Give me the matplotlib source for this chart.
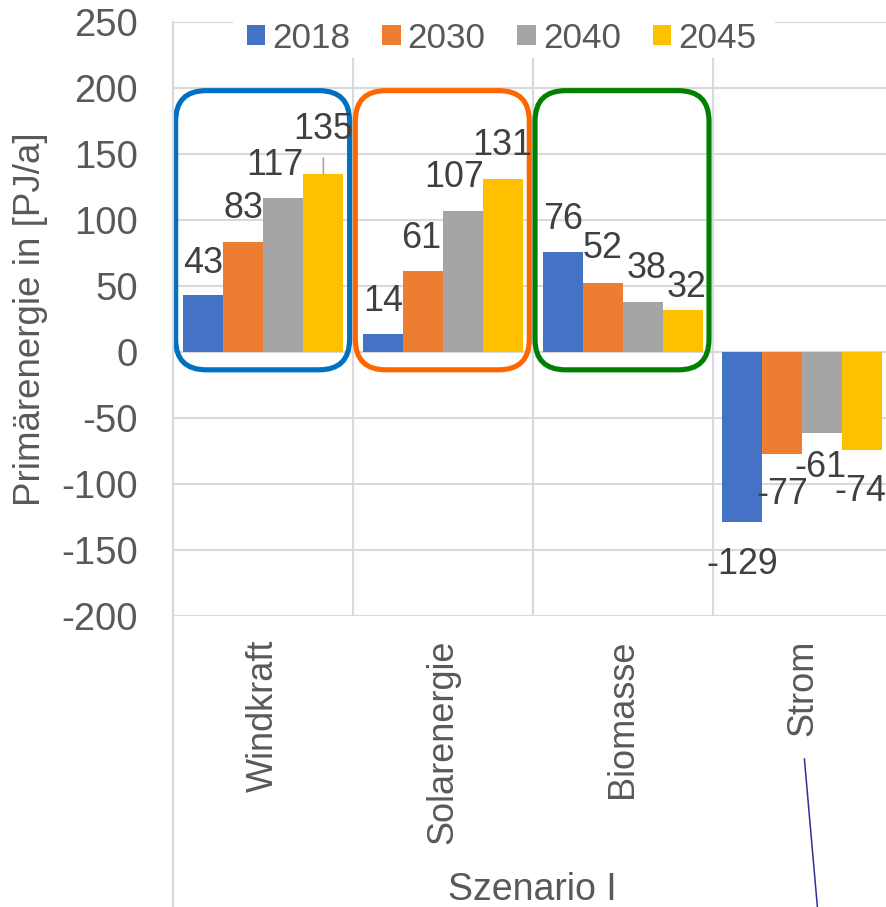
import numpy as np
import matplotlib
matplotlib.use("Agg")
import matplotlib.pyplot as plt
from matplotlib.patches import FancyBboxPatch, Rectangle
from matplotlib.lines import Line2D

plt.rcParams['font.family'] = ['Liberation Sans', 'DejaVu Sans']
plt.rcParams['axes.unicode_minus'] = False

# data
categories = ['Windkraft', 'Solarenergie', 'Biomasse', 'Strom']
years = ['2018', '2030', '2040', '2045']
v2018 = [43, 14, 76, -129]
v2030 = [83, 61, 52, -77]
v2040 = [117, 107, 38, -61]
v2045 = [135, 131, 32, -74]
series = [v2018, v2030, v2040, v2045]
colors = ['#4472C4', '#ED7D31', '#A5A5A5', '#FFC000']

# label offsets in pixels (dx, dy) from bar end, per series / category
label_dx = [[0, 0, 0, 0], [0, -2, 0, 0], [-8, -9, 4, -2], [0, -1, 4, -2]]
label_dy = [[22, 23, 23, -52], [24, 23, 25, -50], [23, 24, 24, -44], [35, 24, 13, -51]]

# highlight boxes around the first three categories
box_colors = ['#0070C0', '#FF6600', '#008000']

W, H = 887, 907
fig = plt.figure(figsize=(W / 100, H / 100), dpi=100)
ax = fig.add_axes([173.5 / W, (H - 616) / H, 718.8 / W, 594 / H])

x = np.arange(len(categories))
bw = 0.2226
bars = []
for i, (vals, c) in enumerate(zip(series, colors)):
    b = ax.bar(x + (i - 1.5) * bw, vals, bw, color=c, label=years[i], zorder=2)
    bars.append(b)

ax.set_xlim(-0.5, 3.5)
ax.set_ylim(-200, 250)
ax.set_yticks(np.arange(-200, 251, 50))
ax.set_xticks(x)
ax.set_xticklabels(categories, rotation=90, va='top', ha='center')
ax.set_xticks([0.5, 1.5, 2.5], minor=True)
ax.tick_params(axis='y', length=0, pad=25.6, labelsize=27.5, labelcolor='#595959')
ax.tick_params(axis='x', which='both', length=0, pad=17, labelsize=26, labelcolor='#595959')
for s in ax.spines.values():
    s.set_visible(False)
ax.set_axisbelow(True)
ax.yaxis.grid(True, color='#D9D9D9', lw=1.5)
ax.xaxis.grid(True, which='minor', color='#D9D9D9', lw=1.5)

# data labels
for i, vals in enumerate(series):
    for j, v in enumerate(vals):
        xp = x[j] + (i - 1.5) * bw
        kw = {}
        if i == 3 and j == 0:
            kw['arrowprops'] = dict(arrowstyle='-', color='#A6A6A6', lw=1.2, shrinkA=6, shrinkB=0)
        ax.annotate(str(v), xy=(xp, v), xytext=(label_dx[i][j], label_dy[i][j]),
                    textcoords='offset pixels', ha='center', va='baseline',
                    fontsize=25.8, color='#404040', zorder=4, **kw)

# rounded boxes
fig.canvas.draw()
sx = ax.transData.transform((1, 0))[0] - ax.transData.transform((0, 0))[0]
sy = ax.transData.transform((0, 1))[1] - ax.transData.transform((0, 0))[1]
aspect = sx / sy
for j, bc in enumerate(box_colors):
    x0, x1 = x[j] - 0.488, x[j] + 0.48
    y0, y1 = -13.5, 198
    p = FancyBboxPatch((x0, y0), x1 - x0, y1 - y0,
                       boxstyle='round,pad=0,rounding_size=0.17',
                       mutation_aspect=aspect, fill=False, ec=bc, lw=3.7, zorder=3)
    ax.add_patch(p)

# white area behind legend
ax.add_patch(Rectangle((233 / W, (H - 58) / H), 542 / W, 44 / H, transform=fig.transFigure,
                       fc='white', ec='none', zorder=1, clip_on=False))
fig.legend(handles=bars, labels=years, ncol=4, loc='center',
           bbox_to_anchor=(501.5 / W, (H - 38) / H), frameon=False, fontsize=25.3,
           handlelength=0.53, handleheight=0.53, handletextpad=0.2, columnspacing=0.9,
           labelcolor='#595959', borderpad=0)

# category axis line, axis title, group label
fig.add_artist(Line2D([173.5 / W, 173.5 / W], [(H - 22) / H, 0], color='#D9D9D9', lw=1.5))
fig.text(31 / W, (H - 319) / H, 'Primärenergie in [PJ/a]', rotation=90,
         ha='center', va='center', fontsize=26.5, color='#595959')
fig.text(532.7 / W, (H - 900) / H, 'Szenario I', ha='center', va='baseline',
         fontsize=27, color='#595959')

# stray connector line
fig.add_artist(Line2D([804.4 / W, 817.4 / W], [(H - 759) / H, 0], color='#2E3192', lw=1.1))

fig.savefig('out.png', dpi=100)
